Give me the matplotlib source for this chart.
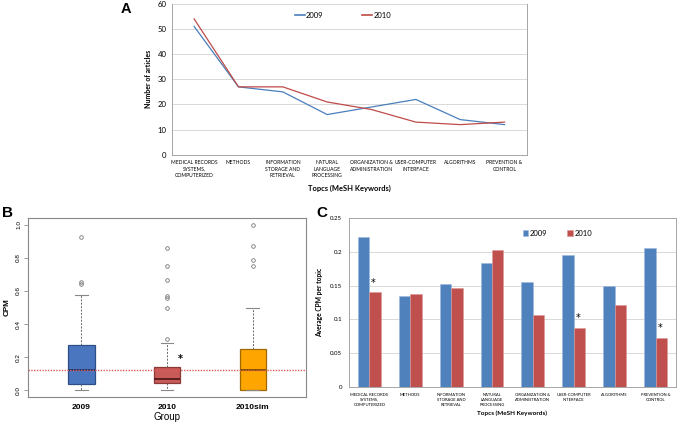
import matplotlib
matplotlib.use("Agg")
import matplotlib.pyplot as plt

topics = ["MEDICAL RECORDS\nSYSTEMS,\nCOMPUTERIZED", "METHODS", "INFORMATION\nSTORAGE AND\nRETRIEVAL",
          "NATURAL\nLANGUAGE\nPROCESSING", "ORGANIZATION &\nADMINISTRATION", "USER-COMPUTER\nINTERFACE",
          "ALGORITHMS", "PREVENTION &\nCONTROL"]
years = ["2009", "2010"]

# panel A: number of articles per topic
articles_2009 = [51, 27, 25, 16, 19, 22, 14, 12]
articles_2010 = [54, 27, 27, 21, 18, 13, 12, 13]

# panel B: CPM box plot summaries
groups = ["2009", "2010", "2010sim"]
cpm_q1 = [0.04, 0.046, 0.0]
cpm_med = [0.125, 0.07, 0.125]
cpm_q3 = [0.272, 0.143, 0.248]
cpm_lo = [0.0, 0.0, 0.0]
cpm_hi = [0.575, 0.284, 0.5]
cpm_out = [[0.927, 0.657, 0.641],
           [0.3125, 0.5, 0.556, 0.572, 0.667, 0.75, 0.857],
           [0.75, 0.784, 0.873, 1.0]]
cpm_ref = 0.125

# panel C: average CPM per topic
avg_2009 = [0.222, 0.135, 0.152, 0.183, 0.155, 0.196, 0.150, 0.206]
avg_2010 = [0.140, 0.137, 0.146, 0.203, 0.107, 0.088, 0.121, 0.073]
signif = [0, 5, 7]  # topics marked with *

blue = "#4F81BD"
red = "#C0504D"
xl = "Lato"
grid_c = "#D9D9D9"
spine_c = "#A6A6A6"

fig = plt.figure(figsize=(6.77, 4.23), dpi=100)

# ---------------- A ----------------
axA = fig.add_axes([0.254, 0.634, 0.524, 0.357])
x = list(range(len(topics)))
axA.plot(x, articles_2009, color="#4A7EBB", lw=0.9, label=years[0])
axA.plot(x, articles_2010, color="#BE4B48", lw=0.9, label=years[1])
axA.set_xlim(-0.5, 7.5)
axA.set_ylim(0, 60)
axA.set_yticks(range(0, 61, 10))
axA.yaxis.grid(True, color=grid_c, lw=0.7)
axA.set_axisbelow(True)
axA.set_xticks(x)
axA.set_xticklabels(topics, fontsize=3.6, family=xl, linespacing=1.3, va="top")
axA.tick_params(axis="x", length=0, pad=4)
axA.tick_params(axis="y", length=0, pad=4, labelsize=5.6)
for t in axA.get_yticklabels():
    t.set_family(xl)
for s in axA.spines.values():
    s.set_color(spine_c)
    s.set_linewidth(0.7)
axA.spines["top"].set_visible(False)
axA.set_ylabel("Number of articles", fontsize=5.0, family=xl, fontweight="bold", labelpad=4)
axA.set_xlabel("Topcs (MeSH Keywords)", fontsize=5.4, family=xl, fontweight="bold", labelpad=5)
legA = axA.legend(loc="center left", bbox_to_anchor=(0.335, 0.923), ncol=2, frameon=False,
                  prop={"family": xl, "size": 5.5}, handlelength=1.3, handletextpad=0.2,
                  columnspacing=5.0, borderpad=0)
for ln in legA.get_lines():
    ln.set_linewidth(1.2)
fig.text(0.178, 0.978, "A", fontsize=10.5, fontweight="bold", family="Liberation Sans", va="center")

# ---------------- B ----------------
axB = fig.add_axes([0.0414, 0.0615, 0.4106, 0.423])
fills = ["#4A76C0", "#C85A58", "#FFA500"]
edges = ["#2E4E86", "#8A3A38", "#9C6A00"]
meds = ["#1E3560", "#4A1515", "#6A4200"]
stats = []
for i in range(len(groups)):
    stats.append({"label": groups[i], "q1": cpm_q1[i], "med": cpm_med[i], "q3": cpm_q3[i],
                  "whislo": cpm_lo[i], "whishi": cpm_hi[i], "fliers": cpm_out[i]})
bp = axB.bxp(stats, positions=[1, 2, 3], widths=0.31, patch_artist=True,
             whiskerprops={"color": "#666666", "linestyle": (0, (2, 1.5)), "lw": 0.7},
             capprops={"color": "#888888", "lw": 0.8},
             medianprops={"color": "#222222", "lw": 1.2},
             flierprops={"marker": "o", "markersize": 2.6, "markerfacecolor": "none",
                         "markeredgecolor": "#777777", "markeredgewidth": 0.6},
             capwidths=0.15)
for patch, fc, ec in zip(bp["boxes"], fills, edges):
    patch.set_facecolor(fc)
    patch.set_edgecolor(ec)
    patch.set_linewidth(0.9)
for m, mc in zip(bp["medians"], meds):
    m.set_color(mc)
axB.axhline(cpm_ref, color="#E05A5A", lw=1.0, linestyle=(0, (1, 1)), zorder=5)
axB.text(2.16, 0.19, "*", fontsize=7, ha="center", va="center", fontweight="bold")
axB.set_xlim(0.38, 3.62)
axB.set_ylim(-0.04, 1.04)
axB.set_yticks([0, 0.2, 0.4, 0.6, 0.8, 1.0])
axB.set_yticklabels(["0.0", "0.2", "0.4", "0.6", "0.8", "1.0"], rotation=90, va="center",
                    fontsize=4.6, family="Liberation Sans")
axB.tick_params(axis="y", length=3, width=0.6, color="#888888", pad=2)
axB.set_xticks([1, 2, 3])
axB.set_xticklabels(groups, fontsize=6, family="Liberation Sans", fontweight="bold")
axB.tick_params(axis="x", length=0, pad=5)
for s in axB.spines.values():
    s.set_color("#888888")
    s.set_linewidth(0.8)
axB.set_ylabel("CPM", fontsize=5.8, family="Liberation Sans", fontweight="bold", labelpad=4)
axB.set_xlabel("Group", fontsize=7, family="Liberation Sans", labelpad=1)
fig.text(0.003, 0.497, "B", fontsize=11, fontweight="bold", family="Liberation Sans", va="center")

# ---------------- C ----------------
axC = fig.add_axes([0.5155, 0.0851, 0.483, 0.3995])
w = 0.28
xb = [i - w / 2 for i in x]
xr = [i + w / 2 for i in x]
axC.bar(xb, avg_2009, w, color=blue, edgecolor="#9DB9DD", lw=0.4, label=years[0])
axC.bar(xr, avg_2010, w, color=red, edgecolor="#DA9A98", lw=0.4, label=years[1])
for i in signif:
    axC.text(i + 0.1, avg_2010[i] + 0.014, "*", fontsize=7, ha="center", va="center")
axC.set_xlim(-0.5, 7.5)
axC.set_ylim(0, 0.25)
axC.set_yticks([0, 0.05, 0.1, 0.15, 0.2, 0.25])
axC.set_yticklabels(["0", "0.05", "0.1", "0.15", "0.2", "0.25"], fontsize=4.4, family=xl)
axC.yaxis.grid(True, color=grid_c, lw=0.7)
axC.set_axisbelow(True)
axC.set_xticks(x)
axC.set_xticklabels(topics, fontsize=3.0, family=xl, linespacing=1.35, va="top")
axC.tick_params(axis="x", length=0, pad=4)
axC.tick_params(axis="y", length=0, pad=5)
for s in axC.spines.values():
    s.set_color(spine_c)
    s.set_linewidth(0.7)
axC.set_ylabel("Average CPM per topic", fontsize=4.8, family=xl, fontweight="bold", labelpad=5)
axC.set_xlabel("Topcs (MeSH Keywords)", fontsize=4.6, family=xl, fontweight="bold", labelpad=3)
axC.legend(loc="center left", bbox_to_anchor=(0.52, 0.911), ncol=2, frameon=False,
           prop={"family": xl, "size": 5.5}, handlelength=0.7, handleheight=0.7,
           handletextpad=0.25, columnspacing=2.6, borderpad=0)
fig.text(0.468, 0.497, "C", fontsize=11, fontweight="bold", family="Liberation Sans", va="center")

fig.savefig("out.png", dpi=100)
